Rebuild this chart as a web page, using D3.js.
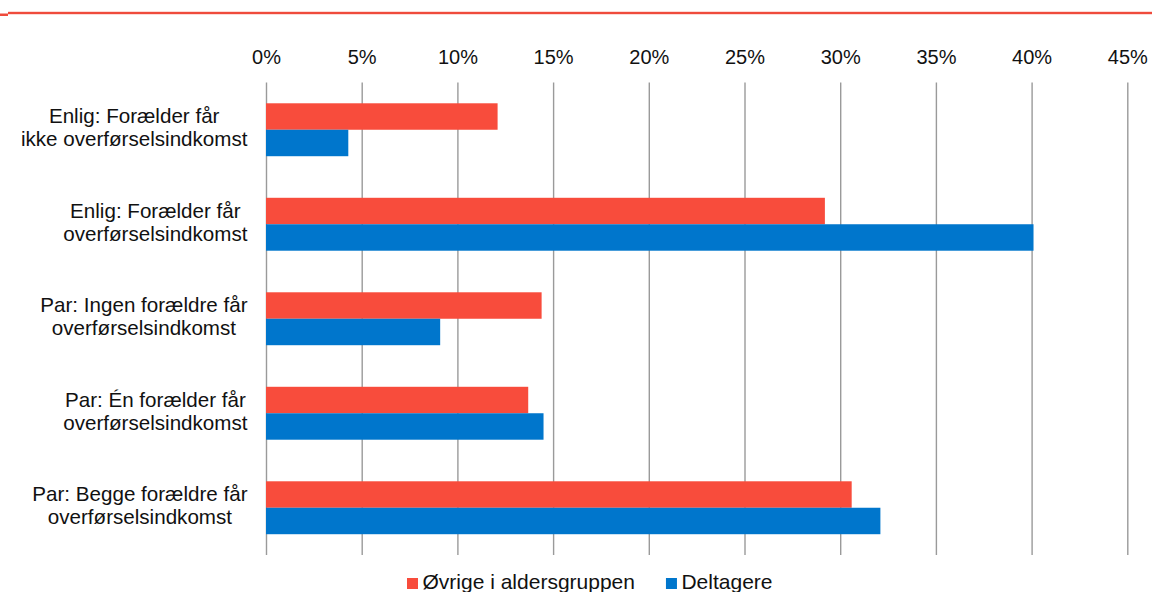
<!DOCTYPE html>
<html>
<head>
<meta charset="utf-8">
<script src="https://cdn.jsdelivr.net/npm/d3@7"></script>
<style>
  body { margin: 0; background: #fff; }
  svg { display: block; font-family: "Liberation Sans", Arial, sans-serif; }
</style>
</head>
<body>
<div id="chart-area"></div>
<script>
// data (percent)
var categories = [
    ["Enlig: Forælder får", "ikke overførselsindkomst"],
    ["Enlig: Forælder får", "overførselsindkomst"],
    ["Par: Ingen forældre får", "overførselsindkomst"],
    ["Par: Én forælder får", "overførselsindkomst"],
    ["Par: Begge forældre får", "overførselsindkomst"]
];
var series = ["Øvrige i aldersgruppen", "Deltagere"];
var ovrige = [12.1, 29.2, 14.4, 13.7, 30.6];
var deltagere = [4.3, 40.1, 9.1, 14.5, 32.1];
var ticks = [0, 5, 10, 15, 20, 25, 30, 35, 40, 45];

var width = 1152, height = 592;
var margin = { left: 266, right: 24, top: 82.5, bottom: 37 };
var red = "#f84c3c", blue = "#0076cc";
var colors = d3.scaleOrdinal().domain(series).range([red, blue]);

var svg = d3.select("#chart-area")
    .append("svg")
        .attr("width", width)
        .attr("height", height);

// top rule
svg.append("rect").attr("x", 8).attr("y", 11.8).attr("width", width - 8).attr("height", 2.4).attr("fill", "#ef4b3c");
svg.append("rect").attr("x", 0).attr("y", 13.5).attr("width", 8).attr("height", 2.5).attr("fill", "#ef4b3c");

var x = d3.scaleLinear()
    .domain([0, 45])
    .range([margin.left, width - margin.right - 0.7]);

var y0 = d3.scaleBand()
    .domain(d3.range(categories.length))
    .range([margin.top, height - margin.bottom])
    .paddingInner(0.44)
    .paddingOuter(0.22);
var y1 = d3.scaleBand()
    .domain(series)
    .range([0, y0.bandwidth()]);

// gridlines
var xAxisCall = d3.axisTop(x)
    .tickValues(ticks)
    .tickSize(-(height - margin.bottom - margin.top))
    .tickFormat(function(d){ return d + "%"; });
var xAxis = svg.append("g")
    .attr("transform", "translate(0," + margin.top + ")")
    .call(xAxisCall);
xAxis.select(".domain").remove();
xAxis.selectAll(".tick line")
    .attr("stroke", "#9a9a9a")
    .attr("stroke-width", 1.4);
xAxis.selectAll(".tick text")
    .attr("y", -19)
    .attr("font-size", "20px")
    .attr("fill", "#111");

// bars
var rows = categories.map(function(c, i){
    return [
        { key: series[0], i: i, value: ovrige[i] },
        { key: series[1], i: i, value: deltagere[i] }
    ];
});
var groups = svg.selectAll("g.grp").data(rows).enter()
    .append("g")
    .attr("class", "grp")
    .attr("transform", function(d, i){ return "translate(0," + y0(i) + ")"; });
groups.selectAll("rect").data(function(d){ return d; }).enter()
    .append("rect")
    .attr("x", x(0))
    .attr("y", function(d){ return y1(d.key); })
    .attr("width", function(d){ return x(d.value) - x(0); })
    .attr("height", y1.bandwidth())
    .attr("fill", function(d){ return colors(d.key); });

// category labels: block right aligned, lines centered inside it
var labelRight = 247.5;
categories.forEach(function(lines, i){
    var cy = y0(i) + y0.bandwidth() / 2;
    var t = svg.append("g");
    var texts = lines.map(function(line, j){
        return t.append("text")
            .attr("y", cy - 6.5 + j * 23)
            .attr("font-size", "20.6px")
            .attr("fill", "#111")
            .attr("text-anchor", "middle")
            .text(line);
    });
    var w = d3.max(texts, function(s){ return s.node().getComputedTextLength(); });
    texts.forEach(function(s){ s.attr("x", labelRight - w / 2); });
});

// legend
var legend = svg.append("g").attr("transform", "translate(407,578)");
var lx = 0;
series.forEach(function(s){
    var item = legend.append("g").attr("transform", "translate(" + lx + ",0)");
    item.append("rect").attr("width", 11).attr("height", 11).attr("fill", colors(s));
    var txt = item.append("text")
        .attr("x", 15.5)
        .attr("y", 11)
        .attr("font-size", "21px")
        .attr("fill", "#111")
        .text(s);
    lx += 15.5 + txt.node().getComputedTextLength() + 31;
});
</script>
</body>
</html>
